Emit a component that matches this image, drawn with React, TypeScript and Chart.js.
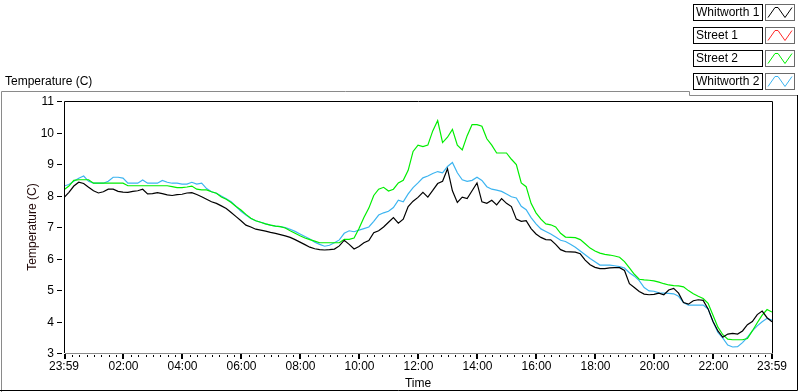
import React, { useEffect, useRef } from "react";
import { Chart, registerables } from "chart.js";

Chart.register(...registerables);

// minutes since 23:59, one sample every 10 minutes
const TIMES: number[] = Array.from({ length: 145 }, (_, i) => i * 10);

const WHITWORTH_1: number[] = [
  7.93, 8.1, 8.3, 8.42, 8.38, 8.26,
  8.15, 8.08, 8.12, 8.2, 8.2, 8.13,
  8.11, 8.1, 8.13, 8.15, 8.2, 8.05,
  8.06, 8.09, 8.06, 8.02, 8.0, 8.03,
  8.04, 8.08, 8.09, 8.03, 7.96, 7.88,
  7.8, 7.75, 7.67, 7.59, 7.46, 7.33,
  7.2, 7.06, 7.0, 6.93, 6.9, 6.87,
  6.83, 6.8, 6.76, 6.72, 6.67, 6.6,
  6.52, 6.44, 6.36, 6.31, 6.28, 6.27,
  6.28, 6.3, 6.4, 6.58, 6.45, 6.3,
  6.38, 6.5, 6.57, 6.82, 6.88, 7.0,
  7.15, 7.3, 7.12, 7.25, 7.65, 7.82,
  7.94, 8.1, 7.95, 8.16, 8.38, 8.45,
  8.85, 8.15, 7.78, 7.95, 7.9, 8.15,
  8.4, 7.8, 7.75, 7.85, 7.7, 7.9,
  7.75, 7.65, 7.25, 7.18, 7.2, 6.95,
  6.78, 6.67, 6.6, 6.59, 6.45, 6.28,
  6.22, 6.21, 6.2, 6.15, 5.95, 5.8,
  5.72, 5.68, 5.68, 5.7, 5.71, 5.71,
  5.62, 5.2, 5.08, 4.95, 4.87, 4.85,
  4.86, 4.9, 4.85, 5.0, 5.05, 4.9,
  4.6, 4.55, 4.66, 4.69, 4.67, 4.4,
  4.0, 3.7, 3.5, 3.6, 3.62, 3.6,
  3.7, 3.9, 4.0, 4.22, 4.33, 4.12,
  3.99,
];

const STREET_1: number[] = [];

const STREET_2: number[] = [
  8.18, 8.3, 8.48, 8.5, 8.5, 8.5,
  8.39, 8.39, 8.39, 8.39, 8.39, 8.39,
  8.39, 8.31, 8.31, 8.31, 8.31, 8.31,
  8.31, 8.31, 8.31, 8.31, 8.28, 8.25,
  8.25, 8.27, 8.3, 8.2, 8.18, 8.18,
  8.12, 8.07, 7.95, 7.88, 7.78, 7.65,
  7.54, 7.4, 7.28, 7.2, 7.15, 7.1,
  7.06, 7.03, 7.01, 6.97, 6.88, 6.8,
  6.72, 6.65, 6.6, 6.55, 6.5, 6.5,
  6.5, 6.5, 6.5, 6.61, 6.61, 6.65,
  6.95, 7.3, 7.6, 8.0, 8.2, 8.26,
  8.14, 8.2, 8.4, 8.48, 8.8, 9.4,
  9.6, 9.55, 9.6, 10.05, 10.38, 9.68,
  9.85, 10.1, 9.6, 9.45, 9.9, 10.25,
  10.25, 10.2, 9.8, 9.6, 9.35, 9.35,
  9.35, 9.15, 8.98, 8.4, 8.28, 7.75,
  7.45, 7.25, 7.1, 7.07, 7.0, 6.8,
  6.68, 6.67, 6.66, 6.6, 6.47, 6.33,
  6.24, 6.17, 6.13, 6.11, 6.08, 6.04,
  5.9, 5.7, 5.5, 5.34, 5.32, 5.31,
  5.29, 5.25, 5.2, 5.16, 5.14, 5.13,
  5.1, 4.98, 4.88, 4.8, 4.73, 4.58,
  4.2, 3.82, 3.58, 3.44, 3.42, 3.42,
  3.42, 3.46, 3.7, 3.96, 4.2, 4.38,
  4.3,
];

const WHITWORTH_2: number[] = [
  8.3, 8.35, 8.45, 8.55, 8.62, 8.45,
  8.39, 8.39, 8.39, 8.45, 8.58, 8.58,
  8.55, 8.39, 8.39, 8.39, 8.49, 8.39,
  8.39, 8.39, 8.48, 8.42, 8.39, 8.39,
  8.36, 8.36, 8.42, 8.36, 8.39, 8.22,
  8.12, 8.07, 7.98, 7.9, 7.8, 7.65,
  7.5, 7.38, 7.27, 7.2, 7.15, 7.1,
  7.06, 7.03, 7.01, 6.98, 6.93, 6.86,
  6.78, 6.7, 6.62, 6.52, 6.45, 6.39,
  6.42, 6.5, 6.59, 6.8, 6.88, 6.85,
  6.9, 6.95, 7.0, 7.18, 7.38, 7.45,
  7.5, 7.62, 7.85, 7.8, 8.05, 8.25,
  8.4, 8.56, 8.62, 8.7, 8.76, 8.72,
  8.92, 9.05, 8.72, 8.5, 8.45, 8.48,
  8.58, 8.48, 8.28, 8.2, 8.17, 8.13,
  8.05, 7.96, 7.92, 7.66, 7.55, 7.3,
  7.1, 6.94, 6.86, 6.78, 6.68, 6.58,
  6.54, 6.45, 6.36, 6.24, 6.12, 6.0,
  5.9, 5.79, 5.79, 5.79, 5.77, 5.74,
  5.7, 5.55, 5.44, 5.3, 5.08, 4.97,
  4.96, 4.91, 4.9, 4.89, 4.88, 4.8,
  4.6, 4.52, 4.52, 4.52, 4.52, 4.4,
  4.0, 3.65, 3.47, 3.25, 3.19, 3.2,
  3.33, 3.5, 3.7, 3.86, 3.99, 4.1,
  4.04,
];

const SERIES_NAMES = ["Whitworth 1", "Street 1", "Street 2", "Whitworth 2"];
const SERIES_COLORS = ["#000000", "#ff2a2a", "#00ee00", "#3cb4f0"];

const Y_TICKS = [3, 4, 5, 6, 7, 8, 9, 10, 11];
// minutes since 23:59
const X_TICK_MINUTES = [0, 121, 241, 361, 481, 601, 721, 841, 961, 1081, 1201, 1321, 1440];
const X_TICK_LABELS = ["23:59", "02:00", "04:00", "06:00", "08:00", "10:00", "12:00", "14:00", "16:00", "18:00", "20:00", "22:00", "23:59"];

const FONT = "12px 'Liberation Sans', Arial, sans-serif";

const decorPlugin = {
  id: "decor",
  afterDraw(chart: any) {
    const ctx: CanvasRenderingContext2D = chart.ctx;
    const { left, right, top, bottom } = chart.chartArea;
    const xs = chart.scales.x;
    const ys = chart.scales.y;
    const W = chart.width;
    const H = chart.height;
    ctx.save();
    ctx.lineWidth = 1;

    // outer frame
    ctx.strokeStyle = "#8a8a8a";
    ctx.beginPath();
    ctx.moveTo(1.5, H);
    ctx.lineTo(1.5, 91.5);
    ctx.lineTo(689.5, 91.5);
    ctx.lineTo(689.5, 95.5);
    ctx.lineTo(W - 2, 95.5);
    ctx.stroke();
    ctx.strokeStyle = "#000";
    ctx.beginPath();
    ctx.moveTo(0, H - 1.5);
    ctx.lineTo(W - 2.5, H - 1.5);
    ctx.lineTo(W - 2.5, 95);
    ctx.stroke();

    // plot border
    ctx.strokeStyle = "#000";
    ctx.beginPath();
    ctx.moveTo(Math.round(left) + 0.5, Math.round(bottom));
    ctx.lineTo(Math.round(left) + 0.5, Math.round(top) + 0.5);
    ctx.lineTo(Math.round(right) + 0.5, Math.round(top) + 0.5);
    ctx.lineTo(Math.round(right) + 0.5, Math.round(bottom) + 0.5);
    ctx.stroke();
    ctx.strokeStyle = "#8a8a8a";
    ctx.beginPath();
    ctx.moveTo(Math.round(left) + 1, Math.round(bottom) + 0.5);
    ctx.lineTo(Math.round(right), Math.round(bottom) + 0.5);
    ctx.stroke();

    // y ticks
    ctx.fillStyle = "#000";
    ctx.strokeStyle = "#000";
    ctx.font = FONT;
    ctx.textAlign = "right";
    ctx.textBaseline = "middle";
    for (const v of Y_TICKS) {
      const y = Math.round(ys.getPixelForValue(v)) + 0.5;
      ctx.beginPath();
      ctx.moveTo(left - 7, y);
      ctx.lineTo(left - 2, y);
      ctx.stroke();
      ctx.fillText(String(v), left - 10, y);
    }

    // x ticks
    const by = Math.round(bottom);
    for (let m = 16; m < 1440; m += 15) {
      if (X_TICK_MINUTES.some((t) => Math.abs(t - m) < 3)) continue;
      const x = Math.round(xs.getPixelForValue(m)) + 0.5;
      ctx.beginPath();
      ctx.moveTo(x, by + 2);
      ctx.lineTo(x, by + 4);
      ctx.stroke();
    }
    ctx.lineWidth = 2;
    X_TICK_MINUTES.forEach((m) => {
      const x = Math.round(xs.getPixelForValue(m)) + (m === 0 ? 1 : 0);
      ctx.beginPath();
      ctx.moveTo(x, by + 1);
      ctx.lineTo(x, by + 6);
      ctx.stroke();
    });
    ctx.lineWidth = 1;
    ctx.textAlign = "center";
    X_TICK_MINUTES.forEach((m, i) => {
      const x = xs.getPixelForValue(m);
      ctx.fillText(X_TICK_LABELS[i], x, by + 14);
    });

    // axis titles
    ctx.fillText("Time", (left + right) / 2, H - 8);
    ctx.save();
    ctx.translate(33, (top + bottom) / 2);
    ctx.rotate(-Math.PI / 2);
    ctx.fillStyle = "#200808";
    ctx.fillText("Temperature (C)", 0, 0);
    ctx.restore();

    ctx.textAlign = "left";
    ctx.fillText("Temperature (C)", 5, 82);

    // legend
    SERIES_NAMES.forEach((name, i) => {
      const y0 = 4.5 + i * 23;
      const h = 16;
      ctx.strokeStyle = "#000";
      ctx.lineWidth = 1;
      ctx.fillStyle = "#fff";
      ctx.fillRect(693.5, y0, 69, h);
      ctx.strokeRect(693.5, y0, 69, h);
      ctx.strokeStyle = "#6a6a6a";
      ctx.fillRect(765.5, y0, 29, h);
      ctx.strokeRect(765.5, y0, 29, h);
      ctx.fillStyle = "#000";
      ctx.textAlign = "left";
      ctx.fillText(name, 696, y0 + h / 2 + 0.5);
      ctx.strokeStyle = SERIES_COLORS[i];
      ctx.beginPath();
      ctx.moveTo(768, y0 + h - 3);
      ctx.lineTo(775, y0 + 3);
      ctx.lineTo(778, y0 + 3);
      ctx.lineTo(785, y0 + h - 3);
      ctx.lineTo(792, y0 + 3);
      ctx.stroke();
    });

    ctx.restore();
  },
};

export default function App() {
  const ref = useRef<HTMLCanvasElement | null>(null);
  useEffect(() => {
    if (!ref.current) return;
    const all = [WHITWORTH_1, STREET_1, STREET_2, WHITWORTH_2];
    const chart = new Chart(ref.current, {
      type: "line",
      data: {
        datasets: all.map((vals, i) => ({
          label: SERIES_NAMES[i],
          data: vals.map((v, k) => ({ x: TIMES[k], y: v })),
          borderColor: SERIES_COLORS[i],
          backgroundColor: SERIES_COLORS[i],
          borderWidth: 1.2,
          pointRadius: 0,
          tension: 0,
          fill: false,
        })),
      },
      options: {
        responsive: false,
        animation: false,
        layout: { padding: { left: 64, right: 28, top: 101, bottom: 39 } },
        plugins: { legend: { display: false }, tooltip: { enabled: false }, title: { display: false } },
        scales: {
          x: { type: "linear", min: 0, max: 1440, display: false },
          y: { type: "linear", min: 3, max: 11, display: false },
        },
      },
      plugins: [decorPlugin],
    });
    return () => chart.destroy();
  }, []);
  return (
    <div style={{ position: "fixed", left: 0, top: 0, width: 800, height: 392, background: "#fff" }}>
      <canvas ref={ref} width={800} height={392} style={{ width: 800, height: 392 }} />
    </div>
  );
}
